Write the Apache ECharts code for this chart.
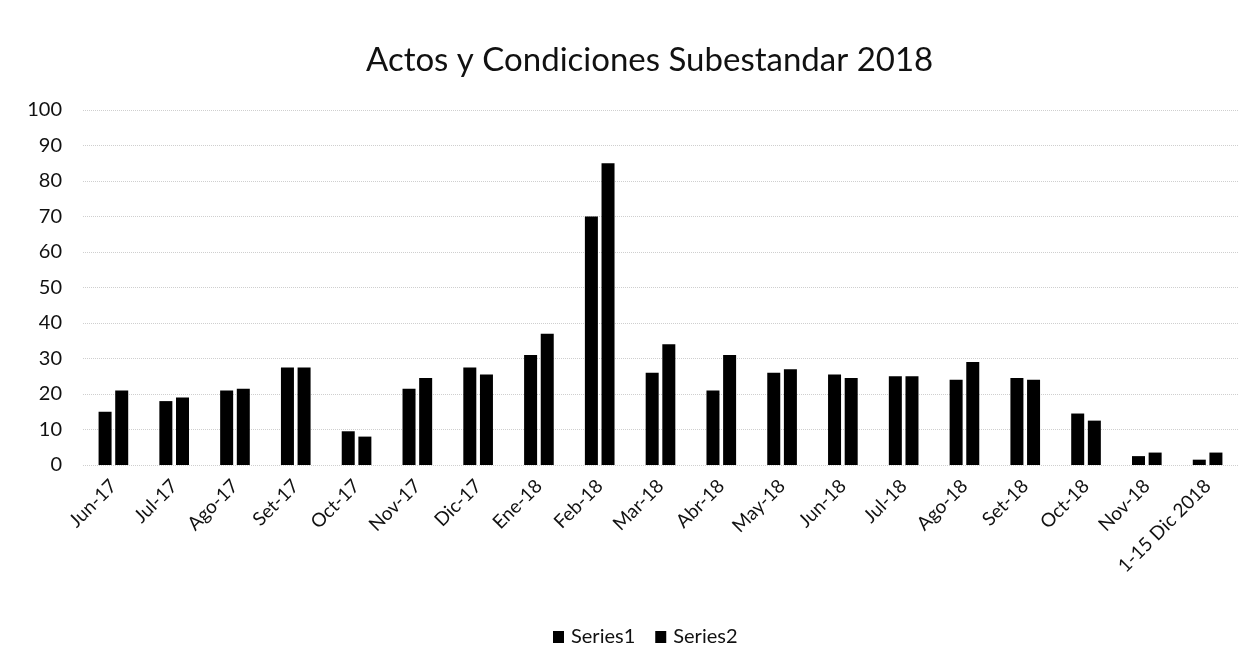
<!DOCTYPE html>
<html><head><meta charset="utf-8">
<script src="https://cdn.jsdelivr.net/npm/echarts@6/dist/echarts.min.js"></script>
<style>html,body{margin:0;padding:0;background:#fff}#c{width:1254px;height:668px}</style>
</head><body><div id="c"></div>
<script>
const categories = ["Jun-17","Jul-17","Ago-17","Set-17","Oct-17","Nov-17","Dic-17","Ene-18","Feb-18","Mar-18","Abr-18","May-18","Jun-18","Jul-18","Ago-18","Set-18","Oct-18","Nov-18","1-15 Dic 2018"];
const series1 = [15,18,21,27.5,9.5,21.5,27.5,31,70,26,21,26,25.5,25,24,24.5,14.5,2.5,1.5];
const series2 = [21,19,21.5,27.5,8,24.5,25.5,37,85,34,31,27,24.5,25,29,24,12.5,3.5,3.5];
const chart = echarts.init(document.getElementById('c'));
const font = 'Lato, "Noto Sans", sans-serif';
chart.setOption({
  animation:false,
  title:{text:'Actos y Condiciones Subestandar 2018',left:361,top:39,
    textStyle:{fontFamily:font,fontSize:33,fontWeight:'normal',color:'#111'}},
  grid:{left:83,right:16,top:110,bottom:203},
  legend:{top:622,left:548,itemWidth:11,itemHeight:12,itemGap:20,icon:'rect',
    textStyle:{fontFamily:font,fontSize:20,color:'#111',padding:[0,0,0,2]}},
  xAxis:{type:'category',data:categories,
    axisLine:{show:false},axisTick:{show:false},
    axisLabel:{rotate:45,interval:0,fontFamily:font,fontSize:19,color:'#111',margin:18}},
  yAxis:{type:'value',min:0,max:100,interval:10,
    axisLine:{show:false},axisTick:{show:false},
    axisLabel:{fontFamily:font,fontSize:20,color:'#111',margin:21},
    splitLine:{lineStyle:{color:'#cfcfcf',type:'dotted',width:1}}},
  series:[
    {name:'Series1',type:'bar',data:series1,barWidth:13,barGap:'28%',itemStyle:{color:'#000'}},
    {name:'Series2',type:'bar',data:series2,barWidth:13,itemStyle:{color:'#000'}}
  ]
});
</script></body></html>
